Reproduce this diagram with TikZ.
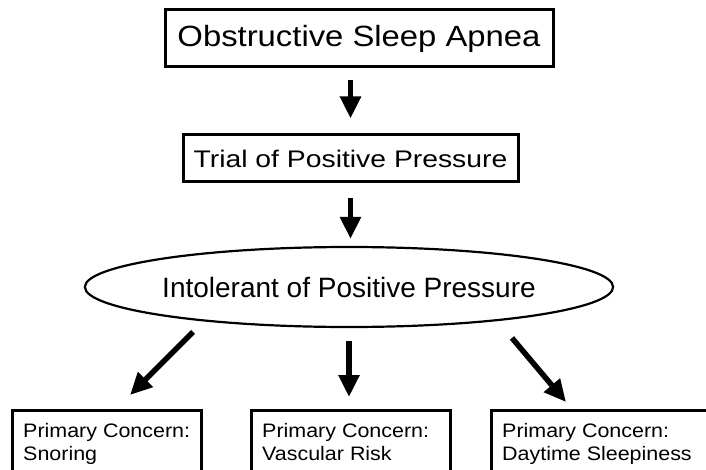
\documentclass[tikz,border=0pt]{standalone}
\usepackage{fontspec}
\setmainfont{Liberation Sans}
\newfontfamily\topfont{Liberation Sans}[FakeStretch=1.12]
\newfontfamily\trialfont{Liberation Sans}[FakeStretch=1.18]
\newfontfamily\botfont{Liberation Sans}[FakeStretch=1.1]
\usetikzlibrary{shapes.geometric,arrows.meta}
\begin{document}
\begin{tikzpicture}[x=1pt,y=-1pt,
  box/.style={draw,line width=3pt,inner sep=0pt},
  arr/.style={line width=5.5pt,-{Triangle[length=22pt,width=20pt]}},
  lbl/.style={align=left,inner sep=0pt,font=\botfont\fontsize{19.5}{23}\selectfont,anchor=north west}]
\useasboundingbox (0,0) rectangle (706,470);
\clip (0,0) rectangle (706,470);
\node[box,minimum width=388,minimum height=57,font=\topfont\fontsize{29.3}{31}\selectfont] (osa) at (359,38.5) {Obstructive Sleep Apnea};
\node[box,minimum width=335,minimum height=47,font=\trialfont\fontsize{24}{26}\selectfont] (trial) at (350.5,158.5) {Trial of Positive Pressure};
\node[ellipse,draw,line width=2.2pt,inner sep=0pt,minimum width=412,minimum height=80,font=\fontsize{28}{30}\selectfont] (intol) at (349,287) {Intolerant of Positive Pressure};
\node[box,anchor=north west,minimum width=189,minimum height=90] (snore) at (11,409) {};
\node[box,anchor=north west,minimum width=199,minimum height=90] (vasc) at (250,409) {};
\node[box,anchor=north west,minimum width=240,minimum height=90] (day) at (490,409) {};
\node[lbl] (snoret) at ([xshift=12pt,yshift=-14pt]snore.north west) {Primary Concern:\\Snoring};
\node[lbl] (vasct) at ([xshift=12pt,yshift=-14pt]vasc.north west) {Primary Concern:\\Vascular Risk};
\node[lbl] (dayt) at ([xshift=12pt,yshift=-14pt]day.north west) {Primary Concern:\\Daytime Sleepiness};
\coordinate (l0) at (193,332); \coordinate (l1) at (130,395);
\coordinate (r0) at (512,338); \coordinate (r1) at (566,402);
\draw[arr,shorten <=12pt,shorten >=15pt] (trial.north |- osa.south) -- (trial.north);
\draw[arr,shorten <=15pt,shorten >=7pt] (trial.south) -- (trial.south |- intol.north);
\draw[arr,shorten <=13pt,shorten >=12pt] (intol.south) -- (intol.south |- vasc.north);
\draw[arr] (l0) -- (l1);
\draw[arr] (r0) -- (r1);
\end{tikzpicture}
\end{document}
